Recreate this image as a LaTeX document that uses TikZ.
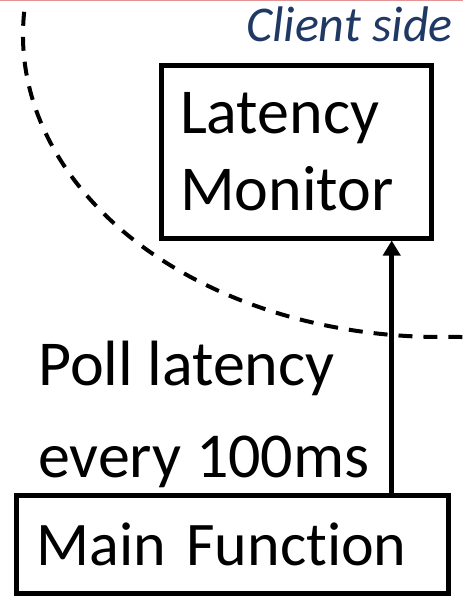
\documentclass[tikz,border=0pt]{standalone}
\usepackage{fontspec}
\setmainfont{Carlito}[Ligatures=NoCommon]
\usetikzlibrary{arrows.meta}
\definecolor{navy}{HTML}{1F3864}
\definecolor{topred}{HTML}{E39393}
\begin{document}
\begin{tikzpicture}[x=1pt,y=-1pt,
  box/.style={draw, line width=5pt, rectangle, align=left},
  big/.style={font=\fontsize{62}{77}\selectfont},
  bigger/.style={font=\fontsize{64}{77}\selectfont},
  arr/.style={line width=5.5pt, -{Triangle[width=17pt,length=15pt]}},
  boundary/.style={line width=4pt, dash pattern=on 14pt off 11pt}]
\useasboundingbox (0,0) rectangle (463,599);
\fill[white] (0,0) rectangle (463,599);
\draw[topred, line width=1.5pt] (0,0.75) -- (463,0.75);
\draw[boundary] (24.2,11.8) arc[start angle=184.4, end angle=90, x radius=417, y radius=302] -- (463,337);
\node[box, bigger, minimum width=270pt, minimum height=172.5pt, text width=232pt, inner xsep=19pt] (mon) at (296,151.75) {Latency\\Monitor};
\node[box, big, minimum width=431.7pt, minimum height=97.5pt, text width=391.7pt, inner xsep=20pt] (main) at (232.2,544.3) {Main Function};
\node[font=\fontsize{64}{92}\selectfont, align=left, anchor=base west, inner sep=0pt] (poll) at (38,477) {Poll latency\\every 100ms};
\node[font=\fontsize{50}{60}\selectfont\itshape, text=navy, anchor=base east, inner sep=0pt] (client) at (453,42) {Client side};
\coordinate (ax) at (391.7,0);
\draw[arr] (ax |- main.north) -- (ax |- mon.south);
\end{tikzpicture}
\end{document}
